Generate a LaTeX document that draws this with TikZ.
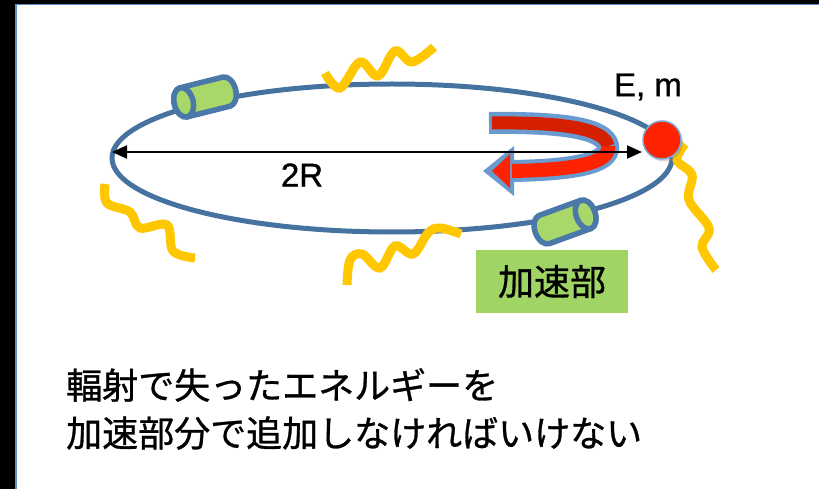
\documentclass[tikz,border=0pt]{standalone}
\usepackage{fontspec}
\setmainfont{Liberation Sans}
\newfontfamily\lat[FakeBold=1]{Liberation Sans}
\newfontfamily\jp[FakeBold=0.8]{Noto Sans CJK JP}
\usetikzlibrary{arrows.meta,shapes.geometric,shadows}

\definecolor{frameblue}{HTML}{5E8FC8}
\definecolor{ringblue}{HTML}{4672A0}
\definecolor{cavgreen}{HTML}{A8D86A}
\definecolor{boxgreen}{HTML}{A0D565}
\definecolor{cavedge}{HTML}{4A78A8}
\definecolor{photon}{HTML}{FFC700}
\definecolor{ballred}{HTML}{FF2200}
\definecolor{ballrim}{HTML}{7BA7D7}
\definecolor{turnedge}{HTML}{6A9BD0}
\definecolor{turndark}{HTML}{D52000}
\definecolor{turnred}{HTML}{FF2200}

\tikzset{
  cavfill/.style={fill=cavgreen, draw=cavedge, line width=5.5pt, line join=round},
  wave/.style={draw=photon, line width=9pt},
  ringline/.style={draw=ringblue, line width=5pt},
  dimarrow/.style={line width=2.2pt, {Triangle[length=15pt,width=13pt]}-{Triangle[length=15pt,width=13pt]}},
  lbl/.style={font=\lat\fontsize{33}{38}\selectfont, inner sep=0pt},
  jptext/.style={font=\jp\fontsize{36}{48}\selectfont, inner sep=0pt},
  cavity/.pic={
    \path[cavfill] (-22,-15) -- (22,-15)
      arc[start angle=-90, end angle=90, x radius=9.5, y radius=15]
      -- (-22,15)
      arc[start angle=90, end angle=270, x radius=9.5, y radius=15] -- cycle;
    \path[cavfill] (-22,0) ellipse[x radius=9.5, y radius=15];
  }
}

\begin{document}
\begin{tikzpicture}[x=1pt, y=-1pt]
  % page and frame
  \useasboundingbox (0,0) rectangle (819,489);
  \fill[white] (0,0) rectangle (819,489);
  \fill[black] (0,0) rectangle (15,489);
  \fill[black] (0,0) rectangle (819,4);
  \draw[frameblue, line width=1.5pt] (15.75,489) -- (15.75,4.75) -- (819,4.75);

  % storage ring
  \node[ellipse, ringline, minimum width=560pt, minimum height=148pt, inner sep=0pt] (ring) at (392,158) {};

  % accelerating cavities
  \pic[rotate=14] (cavA) at (205,97) {cavity};
  \pic[rotate=200] (cavB) at (565,222) {cavity};

  % synchrotron radiation
  \draw[wave] plot[smooth, tension=0.6] coordinates
    {(325,73) (340,88) (360,62) (378,76) (395,51) (412,62) (434,47)};
  \draw[wave] plot[smooth, tension=0.6] coordinates
    {(105,184) (107,203) (130,212) (140,228) (167,225) (173,251) (195,258)};
  \draw[wave] plot[smooth, tension=0.6] coordinates
    {(347,285) (350,260) (362,254) (380,268) (395,246) (413,254) (428,233) (440,228) (461,234)};
  \draw[wave] plot[smooth, tension=0.6] coordinates
    {(685,144) (677,160) (692,175) (689,200) (709,228) (702,247) (716,270)};

  % U-turn arrow showing the direction of travel
  \coordinate (tA) at (489,123);
  \coordinate (tB) at (608,146);
  \coordinate (tC) at (512,171);
  \draw[turnedge, line width=22pt] (tA) .. controls (565,122) and (605,129) .. (tB)
      .. controls (611,164) and (570,170) .. (tC);
  \fill[turnedge] (483,171) -- (514,146) -- (514,196) -- cycle;
  \draw[turndark, line width=13pt] (492,123) .. controls (565,122) and (605,129) .. (tB);
  \draw[turnred, line width=14pt] (tB) .. controls (611,164) and (570,170) .. (tC);
  \fill[turnred] (492,171) -- (510,154) -- (510,188) -- cycle;

  % particle
  \node[circle, fill=ballred, draw=ballrim, line width=1.5pt, minimum size=38pt, inner sep=0pt,
        drop shadow={shadow xshift=2pt, shadow yshift=-2.5pt, opacity=0.3}] (ball) at (662,140) {};

  % diameter
  \coordinate (dl) at (112,152);
  \coordinate (dr) at (642,152);
  \draw[dimarrow] (dl) -- (dr);
  \node[lbl] (diam) at (302,175) {2R};
  \node[lbl] (em) at (648,87) {E, m};

  % label box
  \node[fill=boxgreen, minimum width=152pt, minimum height=63pt, inner sep=0pt,
        font=\jp\fontsize{36}{40}\selectfont] (acc) at (552,281.5) {加速部};

  % note
  \node[jptext, anchor=west] (l1) at (66,385) {輻射で失ったエネルギーを};
  \node[jptext, anchor=west] (l2) at (66,433) {加速部分で追加しなければいけない};
\end{tikzpicture}
\end{document}
